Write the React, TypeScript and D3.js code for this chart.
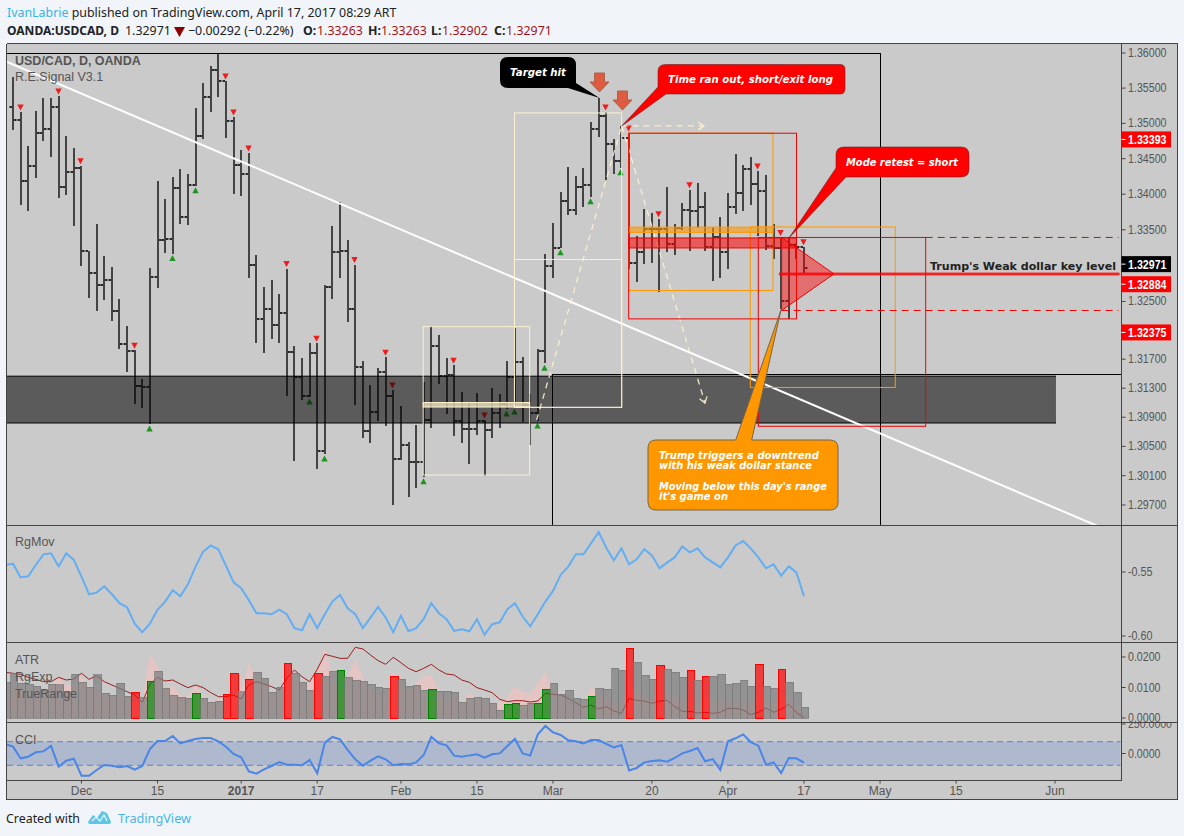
import React from "react";
import * as d3 from "d3";

// ---------- price bars (bar index 0 = first fully visible bar) ----------
const firstOpen = 1.35232;
const highs = [1.35658,1.35161,1.34681,1.35175,1.35359,1.35359,1.35388,1.34822,1.34653,1.34399,1.33209,1.33586,1.33139,1.32986,1.32528,1.32154,1.31824,1.31425,1.32972,1.34188,1.33936,1.34244,1.34356,1.34286,1.35217,1.35572,1.35815,1.35986,1.35600,1.35091,1.34624,1.34582,1.33153,1.32708,1.32792,1.32597,1.32959,1.31878,1.31713,1.31919,1.31919,1.32736,1.33558,1.33894,1.33363,1.33014,1.31672,1.31342,1.31575,1.31727,1.31274,1.31054,1.30562,1.30794,1.31383,1.32154,1.32029,1.31713,1.31617,1.31246,1.31109,1.31232,1.30863,1.31301,1.31218,1.31672,1.32126,1.31727,1.31218,1.31837,1.33167,1.33600,1.34034,1.34385,1.34258,1.34371,1.35019,1.35359,1.35161,1.34779,1.34963,1.34864,1.33418,1.33796,1.33740,1.33656,1.34104,1.33586,1.33880,1.34062,1.34160,1.34034,1.33544,1.33684,1.34020,1.34568,1.34413,1.34526,1.34328,1.34272,1.33586,1.33391,1.33404,1.33321,1.33263];
const lows = [1.34906,1.33852,1.33768,1.34230,1.34751,1.34526,1.33950,1.33992,1.33558,1.33000,1.32542,1.32362,1.32514,1.32224,1.31837,1.31520,1.31082,1.31027,1.30808,1.32681,1.33181,1.33167,1.33586,1.33572,1.34118,1.34779,1.35161,1.35374,1.34793,1.34006,1.33978,1.32820,1.31919,1.31782,1.31975,1.31919,1.31191,1.30303,1.31137,1.31177,1.30194,1.30397,1.32528,1.32833,1.32210,1.31067,1.30618,1.30548,1.30849,1.30780,1.29705,1.30316,1.29812,1.29938,1.30085,1.30754,1.31355,1.30944,1.30643,1.30548,1.30261,1.30656,1.30099,1.30618,1.30754,1.31013,1.31040,1.30835,1.30521,1.30849,1.31644,1.32833,1.33250,1.33712,1.33712,1.33824,1.33964,1.34808,1.34202,1.34286,1.34371,1.32959,1.32764,1.33028,1.33042,1.32625,1.33195,1.33153,1.33502,1.33209,1.33530,1.33209,1.32778,1.32833,1.32959,1.33726,1.33768,1.33852,1.33418,1.33223,1.33098,1.32390,1.32252,1.33098,1.32902];
const closes = [1.35047,1.34188,1.34399,1.34864,1.34920,1.35232,1.34104,1.34314,1.34371,1.33209,1.32903,1.32736,1.32792,1.32362,1.31905,1.31810,1.31328,1.31314,1.32847,1.33363,1.33377,1.34090,1.33684,1.34132,1.34822,1.35374,1.35757,1.35600,1.35033,1.34413,1.34286,1.33014,1.32252,1.32390,1.32168,1.32334,1.31796,1.31451,1.31191,1.31782,1.30439,1.32708,1.33195,1.33209,1.32390,1.31589,1.30712,1.30972,1.31520,1.31191,1.30330,1.30521,1.30289,1.30289,1.30863,1.31878,1.31465,1.31479,1.30849,1.30740,1.30740,1.30849,1.30726,1.30958,1.31082,1.31451,1.31658,1.31067,1.30958,1.31810,1.33000,1.33250,1.33908,1.33782,1.34104,1.34132,1.34920,1.35105,1.34709,1.34469,1.34793,1.33042,1.33195,1.33516,1.33516,1.33516,1.33307,1.33530,1.33782,1.33768,1.33824,1.33265,1.33404,1.33195,1.33824,1.34020,1.34356,1.34146,1.34048,1.33279,1.33250,1.32500,1.33293,1.33263,1.32971];
const downSignals = [1,6,9,16,28,29,31,36,40,45,49,50,58,62,78,81,85,89,98,101,104];
const upSignals = [18,21,24,39,41,54,65,66,69,70,72,76,80];

// ---------- indicator series (first element sits one bar left of bar 0) ----------
const rgMov = [-0.5445,-0.5435,-0.5542,-0.5534,-0.5445,-0.5362,-0.5354,-0.5456,-0.5354,-0.5406,-0.5536,-0.5674,-0.5661,-0.5612,-0.5674,-0.5744,-0.5776,-0.5903,-0.5971,-0.5903,-0.5796,-0.5731,-0.5643,-0.5690,-0.5596,-0.5458,-0.5341,-0.5292,-0.5323,-0.5451,-0.5581,-0.5627,-0.5718,-0.5822,-0.5822,-0.5830,-0.5794,-0.5830,-0.5939,-0.5955,-0.5830,-0.5939,-0.5830,-0.5731,-0.5679,-0.5783,-0.5830,-0.5939,-0.5856,-0.5773,-0.5856,-0.5971,-0.5843,-0.5963,-0.5939,-0.5867,-0.5744,-0.5822,-0.5869,-0.5960,-0.5947,-0.5963,-0.5869,-0.5991,-0.5908,-0.5893,-0.5791,-0.5744,-0.5848,-0.5924,-0.5830,-0.5731,-0.5648,-0.5523,-0.5458,-0.5362,-0.5362,-0.5276,-0.5188,-0.5310,-0.5409,-0.5315,-0.5440,-0.5401,-0.5321,-0.5370,-0.5471,-0.5427,-0.5386,-0.5300,-0.5347,-0.5315,-0.5386,-0.5425,-0.5464,-0.5386,-0.5292,-0.5258,-0.5315,-0.5386,-0.5471,-0.5440,-0.5529,-0.5456,-0.5503,-0.5690];
const trueRange = [0.0118,0.01465,0.01137,0.01104,0.01049,0.00918,0.01104,0.01082,0.00863,0.01432,0.0117,0.01006,0.0141,0.00809,0.00754,0.01137,0.00721,0.00842,0.00678,0.01202,0.0153,0.00973,0.00754,0.00678,0.00645,0.00809,0.00645,0.00514,0.00557,0.00776,0.01465,0.00853,0.01268,0.01497,0.01301,0.00842,0.01006,0.01793,0.01465,0.0117,0.00918,0.01465,0.01377,0.0153,0.01563,0.01344,0.01235,0.01202,0.01104,0.01006,0.00973,0.01366,0.01268,0.01038,0.01071,0.00918,0.0094,0.00874,0.00874,0.00842,0.00514,0.00645,0.00678,0.00645,0.00481,0.00251,0.00448,0.00481,0.00415,0.00481,0.00481,0.0094,0.01137,0.00776,0.00907,0.00645,0.00612,0.0071,0.00973,0.0094,0.01629,0.01563,0.02284,0.01825,0.01399,0.01268,0.01727,0.01596,0.01497,0.01333,0.01563,0.01235,0.01366,0.01366,0.01432,0.01104,0.01137,0.01235,0.01038,0.0176,0.01038,0.00973,0.01596,0.0117,0.00842,0.0035];
const redRangeBars = [16,28,29,31,36,40,50,81,85,89,91,98,101];
const greenRangeBars = [18,24,43,55,65,66,69,70,76];
const rgExp = [0.01497,0.01465,0.01432,0.01333,0.01268,0.01191,0.01191,0.01333,0.01246,0.01279,0.01465,0.01268,0.01388,0.01191,0.01082,0.00973,0.00863,0.00754,0.00514,0.01104,0.01333,0.01213,0.01246,0.01115,0.00995,0.01082,0.00995,0.00831,0.007,0.007,0.00754,0.00623,0.01082,0.01191,0.01115,0.01027,0.00918,0.01301,0.01574,0.01355,0.01191,0.01596,0.02088,0.02022,0.01956,0.01956,0.02317,0.02263,0.02066,0.0188,0.0176,0.01989,0.01814,0.01629,0.01519,0.01629,0.0176,0.01574,0.01443,0.0141,0.01246,0.0117,0.00995,0.00918,0.00831,0.00612,0.00536,0.00568,0.00568,0.00525,0.00557,0.00809,0.00776,0.00754,0.00645,0.00503,0.0035,0.00426,0.00295,0.00372,0.0023,0.00153,0.00645,0.00579,0.00557,0.00481,0.00557,0.00579,0.00372,0.00219,0.00219,0.00164,0.00186,0.00153,0.00186,0.00317,0.00317,0.00262,0.00109,0.00186,0.00328,0.00186,0.00284,0.00448,0.00186,0];
const atrArea = [0.00918,0.00918,0.00918,0.00918,0.00973,0.00918,0.01082,0.01355,0.01082,0.01082,0.0141,0.01027,0.00918,0.00754,0.007,0.00754,0.00645,0.00481,0.00536,0.02142,0.01683,0.00918,0.01082,0.00754,0.007,0.01082,0.00754,0.00536,0.0059,0.00645,0.00754,0.00918,0.01771,0.01355,0.01191,0.00809,0.00809,0.01301,0.01465,0.01137,0.01137,0.01519,0.02317,0.01355,0.00809,0.01355,0.01924,0.01355,0.00918,0.00754,0.00754,0.01552,0.01027,0.00809,0.01137,0.01355,0.0141,0.00918,0.00536,0.00809,0.00481,0.00842,0.00645,0.0059,0.00426,0.00536,0.007,0.01027,0.00863,0.00809,0.01137,0.01497,0.00863,0.00809,0.00481,0.00372,0.00481,0.01049,0.00754,0.007,0.00481,0.00481,0.01137,0.00918,0.007,0.0059,0.00918,0.00809,0.007,0.00536,0.00645,0.00536,0.00645,0.00536,0.0059,0.00481,0.00536,0.00536,0.00426,0.00809,0.00536,0.00481,0.007,0.007,0.00372,0];
const cci = [80,58,-41,-27,10,18,64,-112,-61,-44,-188,-188,-140,-97,-103,-117,-106,-137,-106,38,106,106,148,86,106,123,131,131,103,58,-4,-32,-151,-171,-134,-106,-72,-95,-95,-100,-55,-168,92,140,120,30,-49,-103,-61,-24,-49,-100,-89,-92,-75,-13,140,86,69,-18,-27,-16,-7,-35,-7,1,64,123,1,-18,162,233,179,157,112,103,86,114,114,81,52,72,-143,-123,-75,-64,-58,-69,-38,1,21,47,-66,-47,-140,103,129,162,97,66,-95,-75,-165,-38,-41,-78];

// ---------- axes ----------
const priceTicks = [1.36,1.355,1.35,1.345,1.34,1.335,1.325,1.317,1.313,1.309,1.305,1.301,1.297];
const dateTicks: [number,string,boolean][] = [[9,"Dec",false],[19,"15",false],[30,"2017",true],[40,"17",false],[51,"Feb",false],[61,"15",false],[71,"Mar",false],[84,"20",false],[94,"Apr",false],[104,"17",false],[114,"May",false],[124,"15",false],[137,"Jun",false]];
const rgMovTicks = [-0.55,-0.6];
const rangeTicks = [0.02,0.01,0];
const cciTicks = [250,0];
const levelTop = 1.33393, levelMid = 1.32884, levelLow = 1.32375;

// ---------- drawings, in bar index / price terms ----------
const creamRects = [[53.93,1.3215,67.93,1.30108],[65.93,1.35147,80.03,1.31036],[65.93,1.33084,80.03,1.31036]];
const creamBand = [53.93,1.31102,67.93,1.3104];
const orangeRects = [[80.95,1.3486,99.92,1.32653],[96.94,1.3354,116,1.3131]];
const orangeBand = [80.95,1.33537,99.92,1.33464];
const redRects = [[80.95,1.3486,103.01,1.32258],[97.99,levelTop,120,1.30776]];
const redBand = [80.95,1.33386,103.01,1.33246];
const zone = [-0.79,1.31465,137.13,1.30821];
const trend = [-0.79,1.35873,142.9,1.29401];
const pathUp = [68.85,1.30862,80.03,1.34963];
const pathDown = [80.03,1.34963,90.98,1.31095];
const pathFlat = [80.03,1.34963,90.85,1.34963];
const triangle = [[101.06,levelTop],[107.94,levelMid],[101.06,levelLow]];

const xS = d3.scaleLinear().domain([0,104]).range([13,804]);
const yP = d3.scaleLog().domain([1.36,1.297]).range([53,505]);
const yM = d3.scaleLinear().domain([-0.55,-0.6]).range([572,636]);
const yR = d3.scaleLinear().domain([0,0.02]).range([718,657]);
const yC = d3.scaleLinear().domain([0,250]).range([753.5,724]);

const L = 7, R = 1121.5, T = 43.5, B = 799.5, OUT = 1177.5;
const MAIN_B = 525.5, MOV_B = 642.5, RNG_B = 722.5, CCI_B = 780.5;
const AXIS = "'Liberation Sans', Arial, sans-serif";
const UI = "'Noto Sans', sans-serif";
const CALL = "'DejaVu Sans', sans-serif";
const CREAM = "#fff3cf", ORANGE = "#ff9800", RED = "#f00000";
const px = (v: number) => Math.round(v);

const boxOf = (r: number[]) => ({ x: xS(r[0]), y: yP(r[1]), width: xS(r[2]) - xS(r[0]), height: yP(r[3]) - yP(r[1]) });
const segOf = (s: number[]) => ({ x1: xS(s[0]), y1: yP(s[1]), x2: xS(s[2]), y2: yP(s[3]) });

const lineOn = (vals: number[], y: (v: number) => number) =>
  d3.line<number>().x((_, k) => xS(k - 1)).y(v => y(v))(vals) as string;

function Arrow({ seg }: { seg: number[] }) {
  const s = segOf(seg);
  const a = Math.atan2(s.y2 - s.y1, s.x2 - s.x1);
  const head = (d: number) => `${s.x2 - 7 * Math.cos(a + d)},${s.y2 - 7 * Math.sin(a + d)}`;
  return <g stroke={CREAM} strokeWidth={1.3} fill="none" opacity={0.9}>
    <line {...s} strokeDasharray="6 5" />
    <polyline points={`${head(0.6)} ${s.x2},${s.y2} ${head(-0.6)}`} />
  </g>;
}

function DownArrow({ cx, top }: { cx: number; top: number }) {
  const p = [[-5,0],[5,0],[5,9],[9.5,9],[0,19],[-9.5,9],[-5,9]].map(q => `${cx + q[0]},${top + q[1]}`).join(" ");
  return <polygon points={p} fill="#dd5b3f" stroke="#a9604c" strokeWidth={1} />;
}

function Tag({ value, at, fill }: { value: string; at: number; fill: string }) {
  const y = yP(at);
  return <g>
    <rect x={R} y={y - 8} width={49.5} height={16} fill={fill} />
    <line x1={R} x2={R + 4} y1={y} y2={y} stroke="#fff" />
    <text x={1128} y={y + 4.5} fill="#fff" fontSize={12} fontWeight={700} fontFamily={AXIS} textLength={38.5} lengthAdjust="spacingAndGlyphs">{value}</text>
  </g>;
}

function AxisLabel({ x, y, w, children }: { x: number; y: number; w: number; children: string }) {
  return <text x={x} y={y} textLength={w} lengthAdjust="spacingAndGlyphs">{children}</text>;
}

export default function App() {
  const seriesBars = highs.map((h, i) => {
    const x = px(xS(i));
    const open = i === 0 ? firstOpen : closes[i - 1];
    return { i, x, top: px(yP(h)), bot: px(yP(lows[i])), o: px(yP(open)), c: px(yP(closes[i])) };
  });
  const area = d3.area<number>().x((_, k) => xS(k - 1)).y0(yR(0)).y1(v => yR(v))(atrArea) as string;
  const zoneBox = boxOf(zone);

  return (
    <svg width={1184} height={836} style={{ position: "absolute", left: 0, top: 0, display: "block" }}>
      <defs>
        <clipPath id="main"><rect x={L} y={T} width={R - L} height={MAIN_B - T} /></clipPath>
        <clipPath id="mov"><rect x={L} y={MAIN_B} width={R - L} height={MOV_B - MAIN_B} /></clipPath>
        <clipPath id="rng"><rect x={L} y={MOV_B} width={R - L} height={RNG_B - MOV_B} /></clipPath>
        <clipPath id="cci"><rect x={L} y={RNG_B} width={R - L - 1} height={CCI_B - RNG_B} /></clipPath>
        <clipPath id="axisRng"><rect x={R} y={MOV_B} width={OUT - R} height={RNG_B - MOV_B} /></clipPath>
        <clipPath id="axisCci"><rect x={R} y={RNG_B} width={OUT - R} height={CCI_B - RNG_B} /></clipPath>
      </defs>
      <rect width={1184} height={836} fill="#f1f5f9" />
      <rect x={L} y={T} width={OUT - L} height={B - T} fill="#cacaca" />

      {/* header */}
      <text x={7} y={17} fontSize={12.4} fontFamily={UI} fill="#222">
        <tspan fill="#3bb3e4">IvanLabrie</tspan> published on TradingView.com, April 17, 2017 08:29 ART
      </text>
      <g fontSize={12.4} fontFamily={UI} fill="#222">
        <text x={7} y={35} fontWeight={700} textLength={112} lengthAdjust="spacingAndGlyphs">OANDA:USDCAD, D</text>
        <text x={125} y={35}>1.32971</text>
        <polygon points="174,27 185,27 179.5,37" fill="#8b0000" />
        <text x={188} y={35}>−0.00292 (−0.22%)</text>
        {[["O:",303,317,"1.33263"],["H:",368,381,"1.33263"],["L:",431,442,"1.32902"],["C:",494,506,"1.32971"]].map(([a,x1,x2,v]) =>
          <g key={a as string}>
            <text x={x1 as number} y={35} fontWeight={700}>{a}</text>
            <text x={x2 as number} y={35} fill="#a31515">{v}</text>
          </g>)}
      </g>

      {/* main pane */}
      <g clipPath="url(#main)">
        {seriesBars.map(b => <g key={b.i}>
          <rect x={b.x - 1} y={b.top} width={2} height={b.bot - b.top} fill="#444" />
          <rect x={b.x - 3.5} y={b.o - 1} width={2.5} height={2} fill="#2b2b2b" />
          <rect x={b.x + 1} y={b.c - 1} width={2.5} height={2} fill="#2b2b2b" />
        </g>)}
        {downSignals.map(i => { const x = px(xS(i)) - 0.5, y = yP(highs[i]);
          return <polygon key={i} points={`${x - 3.2},${y - 7.5} ${x + 3.2},${y - 7.5} ${x},${y - 1.5}`} fill="#f01c1c" />; })}
        {upSignals.map(i => { const x = px(xS(i)) - 0.5, y = yP(lows[i]);
          return <polygon key={i} points={`${x - 3.2},${y + 7.5} ${x + 3.2},${y + 7.5} ${x},${y + 1.5}`} fill="#1f951f" />; })}

        <rect {...zoneBox} fill="#000" opacity={0.55} />
        <line x1={zoneBox.x} x2={zoneBox.x + zoneBox.width} y1={zoneBox.y} y2={zoneBox.y} stroke="#000" />
        <line x1={zoneBox.x} x2={zoneBox.x + zoneBox.width} y1={zoneBox.y + zoneBox.height} y2={zoneBox.y + zoneBox.height} stroke="#000" />

        <g stroke="#000" strokeWidth={1} fill="none" shapeRendering="crispEdges">
          <line x1={L} x2={xS(114)} y1={yP(1.36)} y2={yP(1.36)} />
          <line x1={xS(114)} x2={xS(114)} y1={yP(1.36)} y2={MAIN_B} />
          <line x1={xS(70.9)} x2={xS(70.9)} y1={yP(1.31493)} y2={MAIN_B} />
          <line x1={xS(70.9)} x2={R} y1={yP(1.31493)} y2={yP(1.31493)} />
        </g>

        <line {...segOf(trend)} stroke="#fff" strokeWidth={2} />

        <g fill="none" stroke={CREAM} strokeWidth={1} opacity={0.95}>
          {creamRects.map((r, k) => <rect key={k} {...boxOf(r)} />)}
        </g>
        <rect {...boxOf(creamBand)} fill={CREAM} fillOpacity={0.7} stroke={CREAM} />
        <line {...segOf(pathUp)} stroke={CREAM} strokeWidth={1.3} strokeDasharray="6 5" opacity={0.9} />
        <Arrow seg={pathDown} />
        <Arrow seg={pathFlat} />

        <g fill="none" stroke={ORANGE} strokeWidth={1}>
          {orangeRects.map((r, k) => <rect key={k} {...boxOf(r)} />)}
        </g>
        <rect {...boxOf(orangeBand)} fill={ORANGE} fillOpacity={0.6} stroke={ORANGE} />
        <g fill="none" stroke={RED} strokeWidth={1}>
          {redRects.map((r, k) => <rect key={k} {...boxOf(r)} />)}
        </g>
        <rect {...boxOf(redBand)} fill="#ff0000" fillOpacity={0.55} stroke={RED} />
        <polygon points={triangle.map(q => `${xS(q[0])},${yP(q[1])}`).join(" ")} fill="#f00" fillOpacity={0.45} stroke={RED} />

        <line x1={xS(100.7)} x2={R - 2} y1={yP(levelMid)} y2={yP(levelMid)} stroke="#f00" strokeOpacity={0.35} strokeWidth={4} />
        <line x1={xS(100.7)} x2={R - 2} y1={yP(levelMid)} y2={yP(levelMid)} stroke="#f00" strokeWidth={1.5} />
        <line x1={xS(120)} x2={R - 3} y1={yP(levelTop)} y2={yP(levelTop)} stroke={RED} strokeDasharray="7 5" />
        <line x1={xS(101.06)} x2={R - 3} y1={yP(levelLow)} y2={yP(levelLow)} stroke={RED} strokeDasharray="7 5" />

        <DownArrow cx={599.5} top={73} />
        <DownArrow cx={622.5} top={91} />

        {/* callouts */}
        <path d="M508,57 H568 Q576,57 576,65 V83 L599.5,98 L568,88 H508 Q500,88 500,80 V65 Q500,57 508,57Z" fill="#000" />
        <path d="M666,64.5 H840 Q845,64.5 845,69.5 V89 Q845,94 840,94 H666 L621.7,126 L658,87 V71 Q658,64.5 666,64.5Z" fill="#f00" stroke="#6b2222" strokeWidth={0.6} />
        <path d="M844,147 H961 Q969,147 969,155 V169 Q969,177 961,177 H846 L789,238 L836,168 V155 Q836,147 844,147Z" fill="#f00" stroke="#6b2222" strokeWidth={0.6} />
        <path d="M656,440 H735.7 L781,310 L751.7,440 H830 Q838,440 838,448 V502 Q838,510 830,510 H656 Q648,510 648,502 V448 Q648,440 656,440Z" fill={ORANGE} stroke="#76644a" strokeWidth={1} />
        <g fill="#fff" fontFamily={CALL} fontWeight={700} fontStyle="italic" fontSize={10.5} lengthAdjust="spacingAndGlyphs">
          <text x={510} y={76} textLength={56} lengthAdjust="spacingAndGlyphs">Target hit</text>
          <text x={668} y={83} textLength={165} lengthAdjust="spacingAndGlyphs">Time ran out, short/exit long</text>
          <text x={846} y={166} textLength={112} lengthAdjust="spacingAndGlyphs">Mode retest = short</text>
          <text x={659} y={459} textLength={160} lengthAdjust="spacingAndGlyphs">Trump triggers a downtrend</text>
          <text x={659} y={469} textLength={153} lengthAdjust="spacingAndGlyphs">with his weak dollar stance</text>
          <text x={659} y={489.5} textLength={168} lengthAdjust="spacingAndGlyphs">Moving below this day's range</text>
          <text x={659} y={499.5} textLength={69} lengthAdjust="spacingAndGlyphs">it's game on</text>
        </g>
        <text x={930} y={270} fontFamily={CALL} fontWeight={700} fontSize={11} fill="#222" textLength={186} lengthAdjust="spacingAndGlyphs">Trump's Weak dollar key level</text>

        <text x={15} y={65} fontFamily={AXIS} fontWeight={700} fontSize={12.5} fill="#555">USD/CAD, D, OANDA</text>
        <text x={15} y={81} fontFamily={AXIS} fontSize={12.5} fill="#555">R.E.Signal V3.1</text>
      </g>

      {/* RgMov */}
      <g clipPath="url(#mov)">
        <path d={lineOn(rgMov, yM)} fill="none" stroke="#63aef2" strokeWidth={2} />
      </g>
      <text x={15} y={546} fontFamily={AXIS} fontSize={12.5} fill="#555">RgMov</text>

      {/* ATR / RgExp / TrueRange */}
      <g clipPath="url(#rng)">
        <path d={area} fill="#ffbebe" fillOpacity={0.5} />
        <path d={lineOn(rgExp, yR)} fill="none" stroke="#9c1c1c" strokeWidth={1} />
        {trueRange.map((v, k) => {
          const i = k - 1;
          const x0 = px(xS(i) - 3.3), x1 = px(xS(i + 1) - 3.3);
          const red = redRangeBars.includes(i), green = greenRangeBars.includes(i);
          const c = red ? "#ff0000" : green ? "#008000" : "#7c7c7c";
          return <rect key={k} x={x0 + 0.5} y={yR(v)} width={x1 - x0} height={yR(0) - yR(v)} fill={c} fillOpacity={0.7} stroke={c} strokeOpacity={red || green ? 1 : 0.75} shapeRendering="crispEdges" />;
        })}
      </g>
      <g fontFamily={AXIS} fontSize={12.5} fill="#555">
        <text x={15} y={664}>ATR</text>
        <text x={15} y={681}>RgExp</text>
        <text x={15} y={698}>TrueRange</text>
      </g>

      {/* CCI */}
      <g clipPath="url(#cci)">
        <rect x={L} y={yC(100)} width={R - L} height={yC(-100) - yC(100)} fill="#4678dc" fillOpacity={0.2} />
        <line x1={L} x2={R} y1={yC(100)} y2={yC(100)} stroke="#4f85e0" strokeDasharray="6 4" />
        <line x1={L} x2={R} y1={yC(-100)} y2={yC(-100)} stroke="#4f85e0" strokeDasharray="6 4" />
        <path d={lineOn(cci, yC)} fill="none" stroke="#4a85e8" strokeWidth={2} />
      </g>
      <text x={15} y={744} fontFamily={AXIS} fontSize={12.5} fill="#555">CCI</text>

      {/* frame */}
      <g stroke="#444" strokeWidth={1} fill="none" shapeRendering="crispEdges">
        <line x1={L - 0.5} x2={L - 0.5} y1={T} y2={B} />
        <line x1={L - 0.5} x2={OUT} y1={T} y2={T} />
        <line x1={L - 0.5} x2={OUT} y1={B} y2={B} />
        <line x1={OUT} x2={OUT} y1={T} y2={B} />
        <line x1={R} x2={R} y1={T} y2={CCI_B} />
        {[MAIN_B, MOV_B, RNG_B].map(y => <line key={y} x1={L} x2={OUT} y1={y} y2={y} />)}
        <line x1={L} x2={R} y1={CCI_B} y2={CCI_B} />
      </g>

      {/* right axes */}
      <g fontFamily={AXIS} fontSize={12} fill="#555">
        {priceTicks.map(p => <g key={p}>
          <line x1={R} x2={R + 4} y1={yP(p)} y2={yP(p)} stroke="#444" />
          <AxisLabel x={1128} y={yP(p) + 4} w={38.5}>{p.toFixed(5)}</AxisLabel>
        </g>)}
        {rgMovTicks.map(v => <g key={v}>
          <line x1={R} x2={R + 4} y1={yM(v)} y2={yM(v)} stroke="#444" />
          <AxisLabel x={1128} y={yM(v) + 4} w={24.5}>{v.toFixed(2)}</AxisLabel>
        </g>)}
        <g clipPath="url(#axisRng)">
          {rangeTicks.map(v => <g key={v}>
            <line x1={R} x2={R + 4} y1={yR(v)} y2={yR(v)} stroke="#444" />
            <AxisLabel x={1128} y={yR(v) + 4} w={32.5}>{v.toFixed(4)}</AxisLabel>
          </g>)}
        </g>
        <g clipPath="url(#axisCci)">
          {cciTicks.map(v => <g key={v}>
            <line x1={R} x2={R + 4} y1={yC(v)} y2={yC(v)} stroke="#444" />
            <AxisLabel x={1128} y={yC(v) + 4} w={v === 250 ? 44 : 32.5}>{v.toFixed(4)}</AxisLabel>
          </g>)}
        </g>
      </g>
      <Tag value="1.33393" at={1.34772} fill="#ff0000" />
      <Tag value="1.32971" at={levelMid + 0.00136} fill="#000" />
      <Tag value="1.32884" at={levelMid - 0.00144} fill="#ff0000" />
      <Tag value="1.32375" at={levelLow - 0.00305} fill="#ff0000" />

      {/* time axis */}
      <g fontFamily={AXIS} fontSize={12} fill="#555" textAnchor="middle">
        {dateTicks.map(([i, s, bold]) => <g key={i}>
          <line x1={xS(i)} x2={xS(i)} y1={CCI_B} y2={CCI_B + 3} stroke="#444" />
          <text x={xS(i)} y={795} fontWeight={bold ? 700 : 400}>{s}</text>
        </g>)}
      </g>

      {/* footer */}
      <text x={6} y={823} fontSize={12.4} fontFamily={UI} fill="#222">Created with</text>
      <path d="M88,822 L93,815 L97,818 L102,811 L107,813 L111,822 Q111,824 108,824 H91 Q88,824 88,822Z" fill="#5cc6e8" />
      <path d="M92,821 L96,817 L100,821 L104,815 L107,821" fill="none" stroke="#f1f5f9" strokeWidth={1.2} />
      <text x={118} y={823} fontSize={12.7} fontFamily={UI} fill="#46b6e8">TradingView</text>
    </svg>
  );
}
